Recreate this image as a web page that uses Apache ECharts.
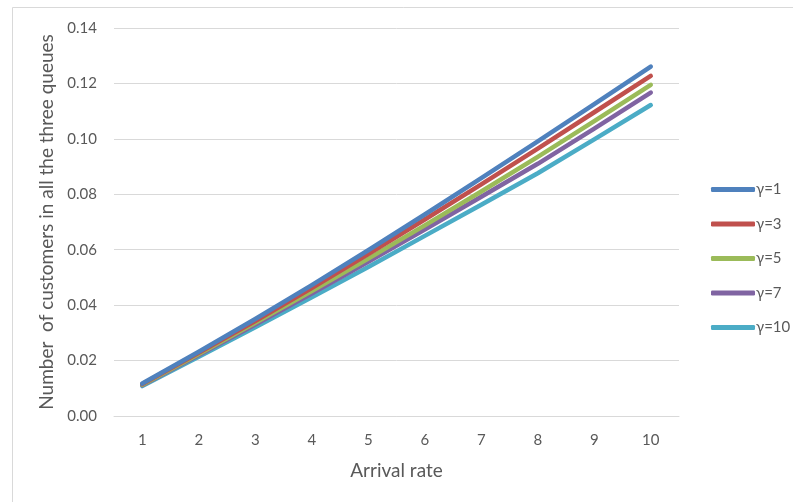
<!DOCTYPE html>
<html>
<head>
<meta charset="utf-8">
<script src="https://cdn.jsdelivr.net/npm/echarts@6/dist/echarts.min.js"></script>
<style>
  html, body { margin: 0; padding: 0; background: #fff; }
  #chart { width: 793px; height: 502px; }
</style>
</head>
<body>
<div id="chart"></div>
<script>
// Arrival rates on the x axis
const arrivalRates = ['1', '2', '3', '4', '5', '6', '7', '8', '9', '10'];

// Mean number of customers in all three queues, one list per gamma value
const gamma1  = [0.0117, 0.0232, 0.0350, 0.0472, 0.0598, 0.0727, 0.0858, 0.0991, 0.1125, 0.1261];
const gamma3  = [0.0115, 0.0228, 0.0343, 0.0462, 0.0584, 0.0709, 0.0836, 0.0965, 0.1096, 0.1227];
const gamma5  = [0.0113, 0.0224, 0.0336, 0.0451, 0.0568, 0.0688, 0.0810, 0.0935, 0.1064, 0.1195];
const gamma7  = [0.0111, 0.0220, 0.0330, 0.0442, 0.0556, 0.0673, 0.0791, 0.0910, 0.1037, 0.1167];
const gamma10 = [0.0108, 0.0214, 0.0320, 0.0428, 0.0538, 0.0650, 0.0762, 0.0876, 0.0998, 0.1122];

const seriesNames = ['γ=1', 'γ=3', 'γ=5', 'γ=7', 'γ=10'];
const seriesData = [gamma1, gamma3, gamma5, gamma7, gamma10];
const colors = ['#4F81BD', '#C0504D', '#9BBB59', '#8064A2', '#4BACC6'];

const FONT = 'Lato, "Open Sans", sans-serif';
const TEXT = '#595959';
const GRIDLINE = '#D9D9D9';

const chart = echarts.init(document.getElementById('chart'), null, { renderer: 'canvas' });

chart.setOption({
  animation: false,
  backgroundColor: '#fff',
  color: colors,
  graphic: [{
    type: 'rect',
    shape: { x: 12.5, y: 7.5, width: 900, height: 600 },
    style: { fill: 'none', stroke: GRIDLINE, lineWidth: 1 },
    silent: true,
    z: -1
  }],
  grid: { left: 114, right: 114, top: 28, bottom: 86 },
  legend: {
    orient: 'vertical',
    left: 706,
    top: 177,
    itemWidth: 44,
    itemHeight: 5,
    itemGap: 19.5,
    icon: 'roundRect',
    textStyle: { color: TEXT, fontFamily: FONT, fontSize: 15, lineHeight: 15, padding: [0, 0, 0, -4] },
    data: seriesNames
  },
  xAxis: {
    type: 'category',
    data: arrivalRates,
    boundaryGap: true,
    name: 'Arrival rate',
    nameLocation: 'middle',
    nameGap: 45,
    nameTextStyle: { color: TEXT, fontFamily: FONT, fontSize: 19 },
    axisLine: { lineStyle: { color: GRIDLINE } },
    axisTick: { show: false },
    axisLabel: { color: TEXT, fontFamily: FONT, fontSize: 15, margin: 17 }
  },
  yAxis: {
    type: 'value',
    min: 0,
    max: 0.14,
    interval: 0.02,
    name: 'Number  of customers in all the three queues',
    nameLocation: 'middle',
    nameGap: 58,
    nameTextStyle: { color: TEXT, fontFamily: FONT, fontSize: 19 },
    axisLine: { show: false },
    axisTick: { show: false },
    axisLabel: {
      color: TEXT, fontFamily: FONT, fontSize: 15, margin: 17,
      formatter: v => v.toFixed(2)
    },
    splitLine: { lineStyle: { color: GRIDLINE, width: 1 } }
  },
  series: seriesNames.map((name, i) => ({
    name: name,
    type: 'line',
    data: seriesData[i],
    showSymbol: false,
    symbol: 'none',
    smooth: false,
    lineStyle: { width: 4.5, cap: 'round', join: 'round', color: colors[i] },
    itemStyle: { color: colors[i] },
    z: 10 - i
  }))
});
</script>
</body>
</html>
